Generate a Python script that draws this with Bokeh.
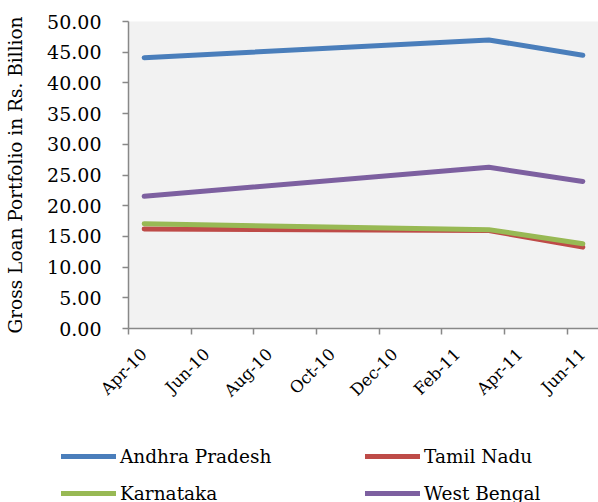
from bokeh.plotting import figure
from bokeh.models import Range1d, FixedTicker, NumeralTickFormatter, Legend, LegendItem
from bokeh.layouts import column
from bokeh.embed import file_html
from bokeh.resources import INLINE
import math

# ---- data ----
month_names = ["Jan", "Feb", "Mar", "Apr", "May", "Jun", "Jul", "Aug", "Sep", "Oct", "Nov", "Dec"]
tick_labels = ["Apr-10", "Jun-10", "Aug-10", "Oct-10", "Dec-10", "Feb-11", "Apr-11", "Jun-11"]
data_periods = ["Apr-10", "Mar-11", "Jun-11"]
andhra_pradesh = [44.1, 47.0, 44.5]
tamil_nadu = [16.2, 15.95, 13.25]
karnataka = [17.05, 16.1, 13.8]
west_bengal = [21.55, 26.25, 23.95]
series_names = ["Andhra Pradesh", "Tamil Nadu", "Karnataka", "West Bengal"]

FONT = "DejaVu Serif"
COLORS = {"Andhra Pradesh": "#4A7EBB", "Tamil Nadu": "#BE4B48",
          "Karnataka": "#98B954", "West Bengal": "#7D60A0"}


def month_index(label):
    m, y = label.split("-")
    return (2000 + int(y)) * 12 + month_names.index(m) - (2010 * 12 + 3)


x_pts = [month_index(d) + 0.5 for d in data_periods]
tick_pos = [month_index(t) for t in tick_labels]
label_pos = [t + 0.5 for t in tick_pos]

p = figure(width=598, height=430, output_backend="svg", toolbar_location=None,
           x_range=Range1d(0, 15), y_range=Range1d(0, 50),
           min_border_left=128, min_border_right=0, min_border_top=21, min_border_bottom=102)
p.frame_align = False
p.background_fill_color = "#F2F2F2"
p.border_fill_color = "white"
p.outline_line_color = None
p.xgrid.visible = False
p.ygrid.visible = False

# axes
p.xaxis.ticker = FixedTicker(ticks=label_pos, minor_ticks=tick_pos)
p.xaxis.major_label_overrides = {t: l for t, l in zip(label_pos, tick_labels)}
p.xaxis.major_label_orientation = math.pi / 4
p.yaxis.ticker = FixedTicker(ticks=list(range(0, 51, 5)))
p.yaxis.formatter = NumeralTickFormatter(format="0.00")
for ax in (p.xaxis[0], p.yaxis[0]):
    ax.axis_line_color = "#888888"
    ax.axis_line_width = 1.5
    ax.major_tick_line_color = "#888888"
    ax.major_tick_line_width = 1.5
    ax.major_tick_in = 0
    ax.major_tick_out = 6
    ax.minor_tick_line_color = None
    ax.major_label_text_font = FONT
    ax.major_label_text_color = "black"
# x axis: tick marks at month starts (minor), labels centred in months (major)
p.xaxis.major_tick_line_color = None
p.xaxis.major_tick_out = 0
p.xaxis.minor_tick_line_color = "#888888"
p.xaxis.minor_tick_line_width = 1.5
p.xaxis.minor_tick_in = 0
p.xaxis.minor_tick_out = 6
p.yaxis.major_label_text_font_size = "19px"
p.xaxis.major_label_text_font_size = "16.5px"
p.yaxis.major_label_standoff = 21
p.xaxis.major_label_standoff = 17
p.yaxis.axis_label = "Gross Loan Portfolio in Rs. Billion"
p.yaxis.axis_label_text_font = FONT
p.yaxis.axis_label_text_font_size = "18.5px"
p.yaxis.axis_label_text_font_style = "normal"
p.yaxis.axis_label_text_color = "black"
p.yaxis.axis_label_standoff = 18

values = {"Andhra Pradesh": andhra_pradesh, "Tamil Nadu": tamil_nadu,
          "Karnataka": karnataka, "West Bengal": west_bengal}
for name in series_names:
    p.line(x_pts, values[name], line_color=COLORS[name], line_width=5,
           line_cap="round", line_join="round")

# ---- legend strip ----
p2 = figure(width=598, height=72, output_backend="svg", toolbar_location=None,
            x_range=Range1d(0, 598), y_range=Range1d(0, 72),
            x_axis_type=None, y_axis_type=None,
            min_border_left=0, min_border_right=0, min_border_top=0, min_border_bottom=0)
p2.frame_align = False
p2.outline_line_color = None
p2.background_fill_color = "white"
p2.border_fill_color = "white"
p2.xgrid.visible = False
p2.ygrid.visible = False
lr = {}
for name in series_names:
    # placeholder renderers (outside the visible range) that only supply legend glyphs
    lr[name] = p2.line([-50, -40], [-50, -50], line_color=COLORS[name], line_width=5,
                       line_cap="round")


def make_legend(names, loc):
    lg = Legend(items=[LegendItem(label=n, renderers=[lr[n]]) for n in names],
                location=loc, orientation="vertical")
    lg.label_text_font = FONT
    lg.label_text_font_size = "18.5px"
    lg.label_text_color = "black"
    lg.glyph_width = 55
    lg.glyph_height = 22
    lg.label_height = 22
    lg.label_standoff = 4
    lg.spacing = 15
    lg.padding = 0
    lg.margin = 0
    lg.border_line_color = None
    lg.background_fill_alpha = 0
    return lg


p2.add_layout(make_legend(["Andhra Pradesh", "Karnataka"], (61, -2)))
p2.add_layout(make_legend(["Tamil Nadu", "West Bengal"], (365, -2)))

open("out.html", "w").write(file_html(column(p, p2, spacing=0), INLINE))
